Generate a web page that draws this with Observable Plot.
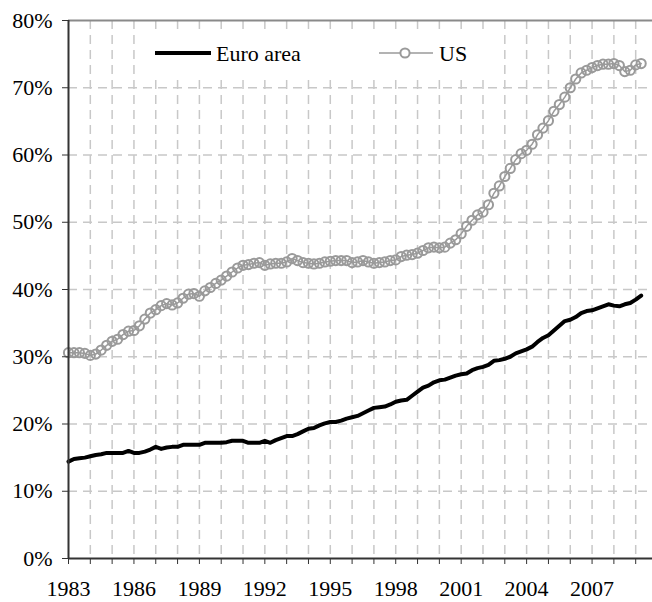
<!DOCTYPE html>
<html><head><meta charset="utf-8">
<script src="https://cdn.jsdelivr.net/npm/d3@7"></script>
<script src="https://cdn.jsdelivr.net/npm/@observablehq/plot@0.6"></script>
<style>
body{margin:0;background:#fff;}
#wrap{position:relative;width:652px;height:602px;overflow:hidden;}
#legend{position:absolute;left:143px;top:29px;}
#wrap svg text{font-family:"Liberation Serif","Times New Roman",serif !important;font-variant-numeric:normal !important;}
</style></head><body><div id="wrap"></div>
<script>
const startYear = 1983; // first quarter 1983Q1, quarterly series
const euroArea = [
14.4,14.8,14.9,15.0, 15.2,15.4,15.5,15.7, 15.7,15.7,15.7,16.0, 15.7,15.7,15.9,16.2,
16.6,16.3,16.5,16.6, 16.6,16.9,16.9,16.9, 16.9,17.2,17.2,17.2, 17.2,17.3,17.5,17.5,
17.5,17.2,17.2,17.2, 17.5,17.2,17.6,17.9, 18.2,18.2,18.5,18.9, 19.3,19.4,19.8,20.1,
20.3,20.3,20.5,20.8, 21.0,21.2,21.6,22.0, 22.4,22.5,22.6,22.9, 23.3,23.5,23.6,24.2,
24.8,25.4,25.7,26.2, 26.5,26.6,26.9,27.2, 27.4,27.5,28.0,28.3, 28.5,28.8,29.4,29.5,
29.7,30.0,30.5,30.8, 31.1,31.5,32.2,32.8, 33.2,33.9,34.6,35.3, 35.5,35.9,36.5,36.8,
36.9,37.2,37.5,37.8, 37.6,37.5,37.8,38.0, 38.5,39.1
];
const us = [
30.6,30.6,30.6,30.5, 30.2,30.4,31.0,31.7, 32.3,32.6,33.3,33.8, 33.9,34.6,35.6,36.5,
37.0,37.6,37.9,37.7, 38.0,38.7,39.3,39.4, 39.0,39.8,40.3,40.9, 41.4,42.0,42.6,43.2,
43.6,43.7,43.9,44.0, 43.6,43.8,43.9,43.9, 44.1,44.6,44.3,44.0, 43.9,43.8,43.9,44.1,
44.2,44.3,44.3,44.3, 44.0,44.1,44.3,44.1, 43.9,44.0,44.1,44.3, 44.4,44.9,45.1,45.2,
45.4,45.8,46.2,46.3, 46.2,46.3,46.9,47.4, 48.3,49.4,50.3,51.1, 51.5,52.6,54.3,55.4,
56.8,58.0,59.3,60.2, 60.7,61.6,63.0,64.0, 65.1,66.5,67.5,68.6, 70.0,71.3,72.2,72.6,
73.0,73.3,73.5,73.5, 73.6,73.3,72.4,72.6, 73.4,73.6
];
const yearTicks = d3.range(1983, 2010);
const labelYears = [1983, 1986, 1989, 1992, 1995, 1998, 2001, 2004, 2007];
const yTicks = [0, 10, 20, 30, 40, 50, 60, 70, 80];
const seriesNames = ["Euro area", "US"];

const FONT = "Liberation Serif";
const toRows = arr => arr.map((v, i) => ({t: startYear + i / 4, v}));
const euroRows = toRows(euroArea);
const usRows = toRows(us);

const gridStyle = {stroke: "#c8c8c8", strokeWidth: 1.5, strokeDasharray: "9,6"};

const chart = Plot.plot({
  width: 652, height: 602,
  marginLeft: 68, marginRight: 0, marginTop: 20, marginBottom: 44,
  style: {fontFamily: FONT, fontSize: "22px", background: "#fff", color: "#000", overflow: "visible"},
  x: {domain: [1983, 2009.77], label: null},
  y: {domain: [0, 80], label: null},
  marks: [
    Plot.ruleX(yearTicks.filter(d => d > 1983), gridStyle),
    Plot.ruleY(yTicks.filter(d => d > 0 && d < 80), gridStyle),
    Plot.ruleY([80], {stroke: "#8a8a8a", strokeWidth: 2}),
    Plot.line(usRows, {x: "t", y: "v", stroke: "#9a9a9a", strokeWidth: 1.5}),
    Plot.dot(usRows, {x: "t", y: "v", r: 4.6, stroke: "#9a9a9a", strokeWidth: 2, fill: "none"}),
    Plot.line(euroRows, {x: "t", y: "v", stroke: "#000", strokeWidth: 4, strokeLinejoin: "round"}),
    Plot.ruleX([1983], {stroke: "#333", strokeWidth: 2}),
    Plot.ruleY([0], {stroke: "#333", strokeWidth: 2}),
    Plot.axisX({ticks: yearTicks, tickSize: 6, tickPadding: 16, stroke: "#333", label: null,
      tickFormat: d => labelYears.includes(d) ? String(d) : "", fontSize: 22, fontFamily: FONT}),
    Plot.axisY({ticks: yTicks, tickSize: 6, tickPadding: 10, stroke: "#333", label: null,
      tickFormat: d => d + "%", fontSize: 22, fontFamily: FONT})
  ]
});
d3.select(chart).selectAll("text").attr("font-family", FONT).style("font-family", FONT);
const wrap = document.getElementById("wrap");
wrap.appendChild(chart);

// legend overlay
const NS = "http://www.w3.org/2000/svg";
const lg = document.createElementNS(NS, "svg");
lg.setAttribute("id", "legend");
lg.setAttribute("width", 352);
lg.setAttribute("height", 45);
lg.style.background = "#fff";
lg.innerHTML = `
  <line x1="12" y1="24" x2="68" y2="24" stroke="#000" stroke-width="4"/>
  <text x="73" y="24" dy="0.35em" font-family="${FONT}" font-size="22">${seriesNames[0]}</text>
  <line x1="236" y1="24" x2="290" y2="24" stroke="#9a9a9a" stroke-width="1.5"/>
  <circle cx="262" cy="24" r="4.6" fill="#fff" stroke="#9a9a9a" stroke-width="2"/>
  <text x="296" y="24" dy="0.35em" font-family="${FONT}" font-size="22">${seriesNames[1]}</text>`;
wrap.appendChild(lg);
</script>
</body></html>
